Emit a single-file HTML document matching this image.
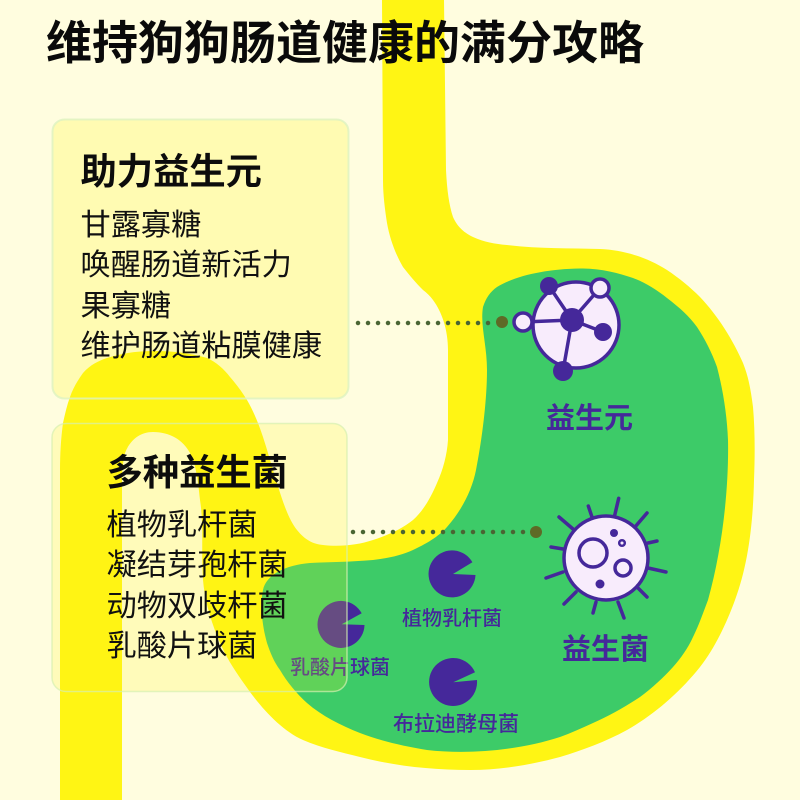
<!DOCTYPE html>
<html><head><meta charset="utf-8"><style>
html,body{margin:0;padding:0;background:#FFFDDF}
svg{display:block}
text{font-family:"Liberation Sans","Noto Sans CJK SC",sans-serif}
.t{font-size:30.2px;fill:#111}
.h{font-size:36.3px;font-weight:700;fill:#0c0c0c}
.l{font-size:20px;fill:#45289a;font-weight:500}
.b{font-size:29px;fill:#45289a;font-weight:700}
</style></head><body>
<svg width="800" height="800" viewBox="0 0 800 800" xmlns="http://www.w3.org/2000/svg">
<rect width="800" height="800" fill="#FFFDDF"/>
<path fill="#FFF514" d="M444 0 L446 170 C447 190 449 205 453 217 C458 228 465 233 473 237 C484 242 495 244 507 245 C540 249 570 248 600 249 C625 250 648 258 667 270 C679 278 690 287 700 297 C718 316 733 340 743 363 C749 378 751 392 753 407 C755 430 755 455 754 480 C753 525 748 565 735 600 C727 622 715 648 700 667 C680 692 655 714 627 730 C605 742 583 750 560 757 C530 765 500 770 470 770 C432 770 395 766 360 757 C340 752 322 748 303 740 C283 731 265 712 250 692 C243 682 234 670 227 657 C215 635 205 605 203 580 C201 550 204 525 200 500 C198 480 196 465 190 453 C183 440 170 432 153 432 C140 432 130 440 125 453 C123 462 122 470 122 480 L122 800 L60 800 L60 470 C60 453 61 438 63 423 C65 414 67 405 70 397 C73 388 78 380 83 373 C90 365 98 361 107 358 C122 353 138 351 155 351 C172 351 190 353 207 358 C216 362 224 369 230 377 C237 385 242 392 247 400 C254 412 259 425 263 437 C268 452 272 468 277 483 C283 503 289 520 297 530 C305 540 313 544 323 545 C340 547 358 545 373 540 C388 535 402 529 413 520 C424 510 431 497 437 483 C443 470 447 455 448 440 L448 350 C448 330 442 312 433 300 C430 296 427 293 423 290 C416 283 410 276 403 267 C396 255 390 240 387 223 C385 210 383 195 383 180 L382 0 Z"/>
<path fill="#3DCB68" d="M483 307 C486 298 490 292 497 287 C515 276 545 269 580 268.500 C600 268 618 273 633 278 C646 283 657 290 667 298 C680 308 689 316 697 327 C705 339 712 353 717 367 C723 390 727 415 728 440 C729 490 722 550 708 600 C703 613 699 625 693 637 C688 648 681 658 673 667 C663 678 652 688 640 697 C625 707 609 716 593 723 C582 728 571 733 560 737 C520 750 470 755 427 750 C403 746 381 741 360 733 C340 725 322 716 307 703 C297 694 287 682 280 670 C274 662 270 652 267 643 C262 625 260 605 263 590 C266 575 285 565 310 563 C330 562 350 562 373 560 C390 558 402 555 413 550 C430 542 440 535 447 527 C462 510 472 490 476 470 C482 440 487 400 487 370 C487 345 480 325 483 307 Z"/>

<g fill="#45289a">
<path d="M453 574 L472.400 562.200 A23.500 23.500 0 1 0 475.500 575 Z"/>
<path d="M341.700 624.300 L361.700 613.300 A23.500 23.500 0 1 0 364.500 625 Z"/>
<path d="M453.300 682.300 L475 672.200 A24 24 0 1 0 477 680 Z"/>
</g>
<text class="l" x="402" y="625">植物乳杆菌</text>
<text class="l" x="290" y="674">乳酸片球菌</text>
<text class="l" x="393" y="731" style="font-size:21px">布拉迪酵母菌</text>

<g stroke="#45289a" stroke-width="3.500" fill="none" stroke-linecap="round">
<circle cx="576" cy="325" r="43" fill="#F8ECFC"/>
<path d="M572 320L549 286M572 320L600 288M572 320L523 322M572 320L603 332M572 320L563 371"/>
<circle cx="600" cy="288" r="9" fill="#F8ECFC"/>
<circle cx="523" cy="322" r="9" fill="#F8ECFC"/>
</g>
<g fill="#45289a">
<circle cx="572" cy="320" r="12"/><circle cx="549" cy="286" r="9"/><circle cx="603" cy="332" r="9"/><circle cx="563" cy="371" r="10"/>
</g>
<text class="b" x="546" y="428">益生元</text>

<g stroke="#45289a" stroke-width="3.500" fill="none" stroke-linecap="round">
<path d="M618.700 498.300L614.300 517M588.300 506L592 517M559 517L573 529M551 547L563 549M546 578L563 572M564 604L576 592M593 613L596 602M624 618L618 602M647 597L638 588M666 572L648 568M648 543L657 541M647 513L635 527"/>
<circle cx="606" cy="558" r="42" fill="#F8ECFC"/>
<circle cx="593" cy="553" r="14"/>
<circle cx="623" cy="568" r="8"/>
<circle cx="622" cy="543" r="2.800" stroke-width="2.500"/>
</g>
<g fill="#45289a"><circle cx="614" cy="533" r="4"/><circle cx="600" cy="584" r="4.500"/></g>
<text class="b" x="562" y="659">益生菌</text>

<g stroke="#4A6533" stroke-width="4.500" stroke-linecap="round" stroke-dasharray="0 10" fill="none">
<path d="M358 323H490"/>
<path d="M353 532H526"/>
</g>
<circle cx="502" cy="322" r="6" fill="#5E6A26"/>
<circle cx="536" cy="532" r="6" fill="#5E6A26"/>

<rect x="52.500" y="119.500" width="296" height="279" rx="12" fill="#FFF514" fill-opacity=".22" stroke="#DDF3C0" stroke-width="2" stroke-opacity=".8"/>
<rect x="52" y="423.500" width="295" height="268" rx="14" fill="#FFF514" fill-opacity=".18" stroke="#D5F0B0" stroke-width="1.500" stroke-opacity=".7"/>

<text x="46" y="59" style="font-size:46px;font-weight:700;fill:#0a0a0a">维持狗狗肠道健康的满分攻略</text>
<text class="h" x="80.500" y="184">助力益生元</text>
<text class="t" x="80.500" y="235">甘露寡糖</text>
<text class="t" x="80.500" y="275">唤醒肠道新活力</text>
<text class="t" x="80.500" y="316">果寡糖</text>
<text class="t" x="80.500" y="356">维护肠道粘膜健康</text>
<text class="h" x="106.500" y="485">多种益生菌</text>
<text class="t" x="106.500" y="535">植物乳杆菌</text>
<text class="t" x="106.500" y="575">凝结芽孢杆菌</text>
<text class="t" x="106.500" y="616">动物双歧杆菌</text>
<text class="t" x="106.500" y="656">乳酸片球菌</text>
</svg>
</body></html>
